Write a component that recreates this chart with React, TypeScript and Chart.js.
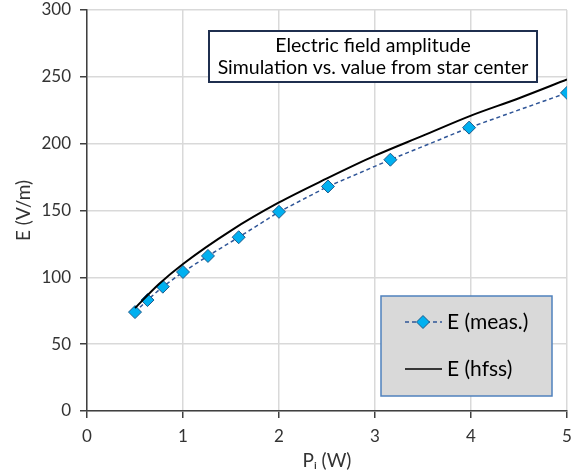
import React, { useEffect, useRef } from "react";
import { Chart, registerables } from "chart.js";

Chart.register(...registerables);

const measP = [0.5, 0.63, 0.79, 1.0, 1.26, 1.58, 2.0, 2.51, 3.16, 3.98, 5.0];
const measE = [74, 83, 93, 104, 116, 130, 149, 168, 188, 212, 238];
const hfssP = [0.5, 0.75, 1.0, 1.5, 2.0, 2.5, 3.0, 3.5, 4.0, 4.5, 5.0];
const hfssE = [77, 95, 110, 135, 156, 174, 191, 206, 221, 234, 248];
const titleLines = ["Electric field amplitude", "Simulation vs. value from star center"];
const xTitle = "Pᵢ (W)";
const yTitle = "E (V/m)";
const seriesLabels = ["E (meas.)", "E (hfss)"];

const FONT = "Lato, 'Open Sans', sans-serif";

const overlayPlugin = {
  id: "overlay",
  afterDraw(chart: any) {
    const ctx = chart.ctx;
    const ca = chart.chartArea;
    ctx.save();
    // title box
    const tx = ca.left + 122, ty = ca.top + 21, tw = 328, th = 51;
    ctx.fillStyle = "#ffffff";
    ctx.fillRect(tx, ty, tw, th);
    ctx.strokeStyle = "#1f2f4f";
    ctx.lineWidth = 2;
    ctx.strokeRect(tx, ty, tw, th);
    ctx.fillStyle = "#000000";
    ctx.font = `19.5px ${FONT}`;
    ctx.textAlign = "center";
    ctx.textBaseline = "middle";
    ctx.fillText(titleLines[0], tx + tw / 2, ty + 15);
    ctx.fillText(titleLines[1], tx + tw / 2, ty + 37);

    // legend box
    const lx = ca.left + 294, ly = ca.top + 286, lw = 171, lh = 100;
    ctx.fillStyle = "#d9d9d9";
    ctx.fillRect(lx, ly, lw, lh);
    ctx.strokeStyle = "#4f81bd";
    ctx.lineWidth = 1.5;
    ctx.strokeRect(lx, ly, lw, lh);
    // meas entry
    const r1 = ly + 26;
    ctx.strokeStyle = "#2f5597";
    ctx.lineWidth = 1.5;
    ctx.setLineDash([4, 3]);
    ctx.beginPath();
    ctx.moveTo(lx + 24, r1);
    ctx.lineTo(lx + 61, r1);
    ctx.stroke();
    ctx.setLineDash([]);
    ctx.fillStyle = "#00b0f0";
    ctx.strokeStyle = "#1f5a8a";
    ctx.lineWidth = 1;
    ctx.beginPath();
    const cx = lx + 42, s = 6.5;
    ctx.moveTo(cx, r1 - s);
    ctx.lineTo(cx + s, r1);
    ctx.lineTo(cx, r1 + s);
    ctx.lineTo(cx - s, r1);
    ctx.closePath();
    ctx.fill();
    ctx.stroke();
    // hfss entry
    const r2 = ly + 73;
    ctx.strokeStyle = "#000000";
    ctx.lineWidth = 1.5;
    ctx.beginPath();
    ctx.moveTo(lx + 24, r2);
    ctx.lineTo(lx + 61, r2);
    ctx.stroke();
    ctx.fillStyle = "#000000";
    ctx.font = `21px ${FONT}`;
    ctx.textAlign = "left";
    ctx.fillText(seriesLabels[0], lx + 66, r1);
    ctx.fillText(seriesLabels[1], lx + 66, r2);
    ctx.restore();
  },
};

export default function App() {
  const ref = useRef<HTMLCanvasElement>(null);
  useEffect(() => {
    const chart = new Chart(ref.current!, {
      type: "scatter",
      data: {
        datasets: [
          {
            label: seriesLabels[1],
            data: hfssP.map((x, i) => ({ x, y: hfssE[i] })),
            showLine: true,
            borderColor: "#000000",
            borderWidth: 2,
            pointRadius: 0,
            cubicInterpolationMode: "monotone",
          },
          {
            label: seriesLabels[0],
            data: measP.map((x, i) => ({ x, y: measE[i] })),
            showLine: true,
            borderColor: "#2f5597",
            borderWidth: 1.5,
            borderDash: [4, 3],
            pointStyle: "rectRot",
            pointRadius: 6.5,
            pointBackgroundColor: "#00b0f0",
            pointBorderColor: "#1f5a8a",
            pointBorderWidth: 1,
            tension: 0,
          },
        ],
      },
      options: {
        responsive: false,
        animation: false,
        layout: { padding: { left: 0, top: 10, right: 14, bottom: 0 } },
        plugins: { legend: { display: false }, tooltip: { enabled: false } },
        scales: {
          x: {
            type: "linear",
            min: 0,
            max: 5,
            ticks: { stepSize: 1, color: "#333333", font: { family: FONT, size: 17 }, padding: 8 },
            grid: { color: "#d9d9d9", lineWidth: 1.5, tickLength: 7, tickColor: "#404040" },
            border: { color: "#404040", width: 1.5 },
            title: { display: true, text: xTitle, color: "#333333", font: { family: FONT, size: 19 }, padding: { top: 0, bottom: 2 } },
            afterFit: (s: any) => { s.height = 63; s.paddingRight = 0; },
          },
          y: {
            type: "linear",
            min: 0,
            max: 300,
            ticks: { stepSize: 50, color: "#333333", font: { family: FONT, size: 17 }, padding: 9 },
            grid: { color: "#d9d9d9", lineWidth: 1.5, tickLength: 7, tickColor: "#404040" },
            border: { color: "#404040", width: 1.5 },
            title: { display: true, text: yTitle, color: "#333333", font: { family: FONT, size: 19 }, padding: { top: 12, bottom: 0 } },
            afterFit: (s: any) => { s.width = 87; s.paddingTop = 0; s.paddingBottom = 0; },
          },
        },
      },
      plugins: [overlayPlugin],
    } as any);
    return () => chart.destroy();
  }, []);
  return (
    <div style={{ position: "absolute", left: 0, top: 0, width: 581, height: 474, background: "#fff" }}>
      <canvas ref={ref} width={581} height={474} />
    </div>
  );
}
